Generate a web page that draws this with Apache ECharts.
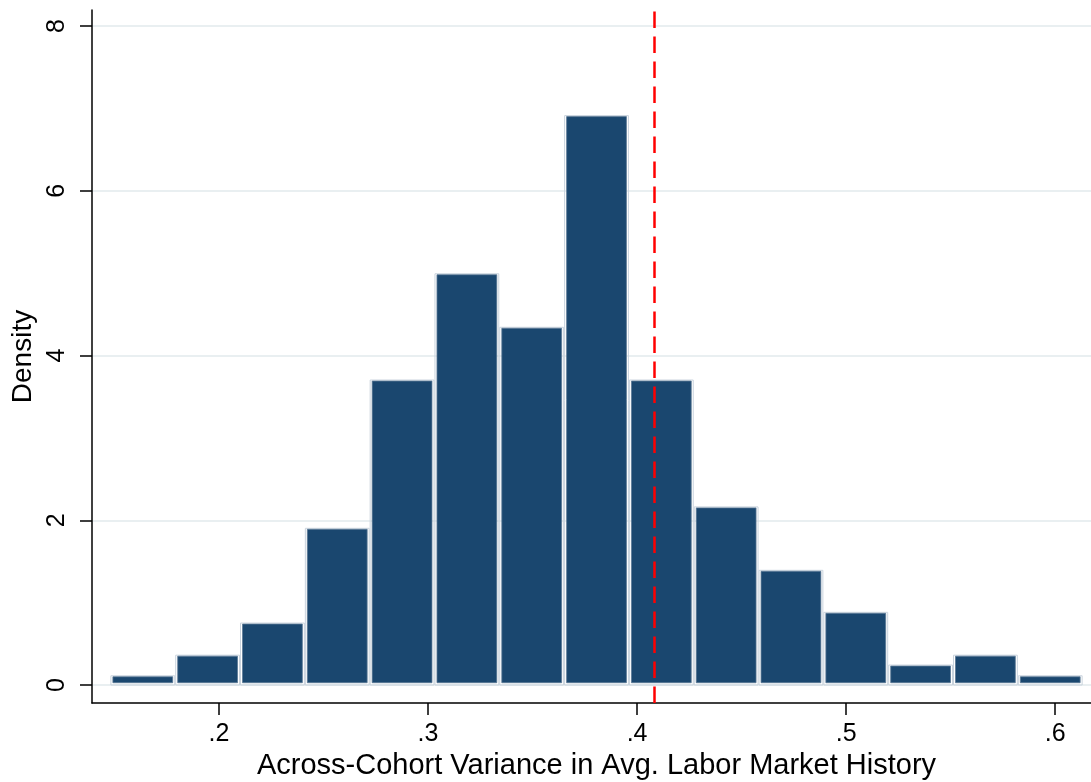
<!DOCTYPE html>
<html><head><meta charset="utf-8">
<script src="https://cdn.jsdelivr.net/npm/echarts@6/dist/echarts.min.js"></script>
<style>html,body{margin:0;padding:0;background:#fff}#c{width:1091px;height:782px}</style>
</head><body><div id="c"></div>
<script>
const binStart = 0.1481;
const binWidth = 0.0310;
const densities = [0.10, 0.35, 0.74, 1.89, 3.69, 4.98, 4.33, 6.90, 3.69, 2.15, 1.38, 0.87, 0.23, 0.35, 0.10];
const xTicks = [0.2, 0.3, 0.4, 0.5, 0.6];
const yTicks = [0, 2, 4, 6, 8];
const refValue = 0.4083;
const xTitle = 'Across-Cohort Variance in Avg. Labor Market History';
const yTitle = 'Density';

const bins = densities.map((d, i) => [binStart + i * binWidth, binStart + (i + 1) * binWidth, d]);
const FONT = '"Liberation Sans", Arial, sans-serif';

const chart = echarts.init(document.getElementById('c'), null, {renderer: 'canvas'});
chart.setOption({
  animation: false,
  backgroundColor: '#ffffff',
  grid: {left: 92, right: 0, top: 10, bottom: 79, containLabel: false, outerBoundsMode: 'none'},
  xAxis: {
    type: 'value', min: 0.1393, max: 0.6171,
    axisLine: {show: true, onZero: false, lineStyle: {color: '#000', width: 1.5}},
    axisTick: {show: true, customValues: xTicks, length: 12, inside: false, lineStyle: {color: '#000', width: 1.5}},
    axisLabel: {show: true, customValues: xTicks, margin: 19, fontSize: 25, color: '#000', fontFamily: FONT,
      formatter: v => String(+v.toFixed(2)).replace(/^0\./, '.')},
    splitLine: {show: false},
    name: xTitle, nameLocation: 'middle', nameGap: 47,
    nameTextStyle: {fontSize: 29, color: '#000', fontFamily: FONT, padding: [0, 0, 0, 10]}
  },
  yAxis: {
    type: 'value', min: -0.2184, max: 8.194,
    axisLine: {show: true, onZero: false, lineStyle: {color: '#000', width: 1.5}},
    axisTick: {show: true, customValues: yTicks, length: 12, inside: false, lineStyle: {color: '#000', width: 1.5}},
    axisLabel: {show: true, customValues: yTicks, rotate: 90, margin: 22, fontSize: 25, color: '#000', fontFamily: FONT},
    splitLine: {show: true, lineStyle: {color: '#e9eff1', width: 2}},
    name: yTitle, nameLocation: 'middle', nameGap: 55,
    nameTextStyle: {fontSize: 28, color: '#000', fontFamily: FONT}
  },
  series: [{
    type: 'custom',
    data: bins,
    encode: {x: [0, 1], y: 2},
    renderItem: function (params, api) {
      const x0 = api.value(0), x1 = api.value(1), h = api.value(2);
      const pL = api.coord([x0, h]);
      const pR = api.coord([x1, 0]);
      return {
        type: 'group',
        children: [
          {type: 'rect', shape: {x: pL[0] + 0.5, y: pL[1] - 1, width: pR[0] - pL[0] - 1, height: pR[1] - pL[1] + 1},
           style: {fill: 'none', stroke: '#c9d3dd', lineWidth: 1}},
          {type: 'rect', shape: {x: pL[0] + 2.5, y: pL[1], width: pR[0] - pL[0] - 5, height: pR[1] - pL[1] - 2.3},
           style: {fill: '#1a476f', stroke: '#5a7896', lineWidth: 0.8}}
        ]
      };
    },
    markLine: {
      silent: true, symbol: ['none', 'none'], label: {show: false}, precision: 4,
      lineStyle: {color: '#ff0000', width: 2.5, type: [16.5, 8.5]},
      data: [{xAxis: refValue}]
    },
    z: 2
  }]
});
</script>
</body></html>
